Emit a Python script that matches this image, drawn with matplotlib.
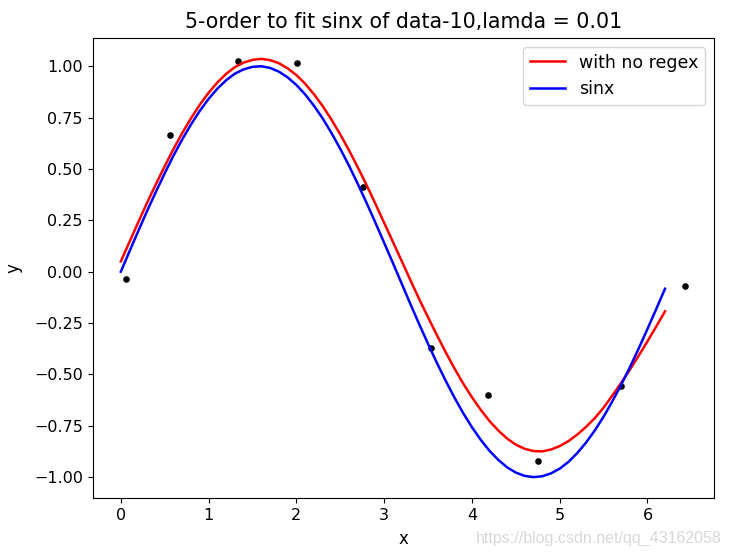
import matplotlib
matplotlib.use("Agg")
import matplotlib.pyplot as plt

# sample points (black dots)
data_x = [0.059, 0.564, 1.336, 2.005, 2.757, 3.538, 4.187, 4.751, 5.700, 6.433]
data_y = [-0.035, 0.667, 1.025, 1.017, 0.413, -0.373, -0.600, -0.924, -0.557, -0.068]

# curve sample positions
curve_x = [0.0, 0.1, 0.2, 0.3, 0.4, 0.5, 0.6, 0.7, 0.8, 0.9, 1.0, 1.1, 1.2, 1.3, 1.4, 1.5,
           1.6, 1.7, 1.8, 1.9, 2.0, 2.1, 2.2, 2.3, 2.4, 2.5, 2.6, 2.7, 2.8, 2.9, 3.0, 3.1,
           3.2, 3.3, 3.4, 3.5, 3.6, 3.7, 3.8, 3.9, 4.0, 4.1, 4.2, 4.3, 4.4, 4.5, 4.6, 4.7,
           4.8, 4.9, 5.0, 5.1, 5.2, 5.3, 5.4, 5.5, 5.6, 5.7, 5.8, 5.9, 6.0, 6.1, 6.2]

# fitted polynomial (red)
fit_y = [0.050, 0.146, 0.242, 0.336, 0.426, 0.513, 0.597, 0.675, 0.747, 0.813, 0.871, 0.921,
         0.963, 0.996, 1.018, 1.031, 1.036, 1.030, 1.015, 0.990, 0.957, 0.915, 0.864, 0.806,
         0.740, 0.668, 0.591, 0.508, 0.422, 0.331, 0.238, 0.145, 0.052, -0.042, -0.134,
         -0.222, -0.308, -0.391, -0.470, -0.544, -0.611, -0.672, -0.727, -0.773, -0.812,
         -0.842, -0.862, -0.873, -0.875, -0.866, -0.849, -0.825, -0.793, -0.756, -0.713,
         -0.662, -0.603, -0.542, -0.477, -0.409, -0.339, -0.267, -0.193]

# sin x (blue)
sin_y = [0.000, 0.100, 0.199, 0.296, 0.389, 0.479, 0.565, 0.644, 0.717, 0.783, 0.841, 0.891,
         0.932, 0.964, 0.985, 0.997, 1.000, 0.992, 0.974, 0.946, 0.909, 0.863, 0.808, 0.746,
         0.675, 0.598, 0.516, 0.427, 0.335, 0.239, 0.141, 0.042, -0.058, -0.158, -0.256,
         -0.351, -0.443, -0.530, -0.612, -0.688, -0.757, -0.818, -0.872, -0.916, -0.952,
         -0.978, -0.994, -1.000, -0.996, -0.982, -0.959, -0.926, -0.883, -0.832, -0.773,
         -0.706, -0.631, -0.551, -0.465, -0.374, -0.279, -0.182, -0.083]

title = "5-order to fit sinx of data-10,lamda = 0.01"

fig = plt.figure(figsize=(7.29, 5.58), dpi=100)
ax = fig.add_axes([0.127, 0.1075, 0.852, 0.8245])

ax.plot(data_x, data_y, "k.", markersize=7.5)
ax.plot(curve_x, fit_y, color="red", lw=1.8, label="with no regex")
ax.plot(curve_x, sin_y, color="blue", lw=1.8, label="sinx")

ax.set_title(title, fontsize=14.8, pad=7)
ax.set_xlabel("x", fontsize=12, labelpad=5)
ax.set_ylabel("y", fontsize=12, labelpad=8)
ax.tick_params(labelsize=11.5)
ax.legend(loc="upper right", fontsize=12.5)

fig.text(0.99, 0.022, "https://blog.csdn.net/qq_43162058", ha="right", va="bottom",
         color="#d8d8d8", fontsize=11.5, family="Liberation Sans")

fig.savefig("out.png", dpi=100)
